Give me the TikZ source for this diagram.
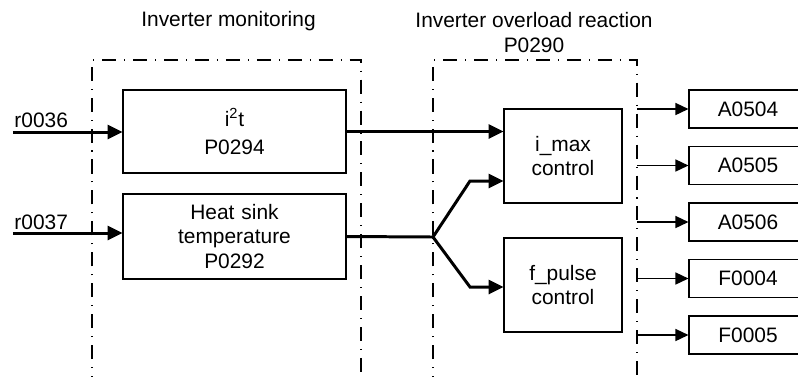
\documentclass[tikz,border=0pt]{standalone}
\usepackage{fontspec}
\setmainfont{Liberation Sans}
\usepackage{tikz}
\usetikzlibrary{shapes,arrows}
\usetikzlibrary{arrows.meta}

\begin{document}
\begin{tikzpicture}[font=\fontsize{11.9}{14.2}\selectfont]
        \tikzstyle{block} = [rectangle, draw, line width=0.6pt, text centered, inner sep=0pt]
        \tikzstyle{outbox} = [block, text width=2.36cm, minimum height=0.76cm]
        \tikzstyle{line} = [draw, line width=1.7pt, -{Triangle[length=8.5pt, width=8pt]}]
        \tikzstyle{outline} = [draw, line width=0.9pt, -{Triangle[length=7.4pt, width=6.8pt]}]
        \tikzstyle{frame} = [draw, line width=0.6pt, dash pattern=on 8pt off 4.5pt on 0.6pt off 4.5pt]

        \useasboundingbox (0,0) rectangle (15.96,-7.52);

        % dash-dot frames
        \draw [frame] (1.84,-7.8) |- (7.22,-1.2) -- (7.22,-7.8);
        \draw [frame] (8.66,-7.8) |- (12.74,-1.2) -- (12.74,-7.8);
        \node [anchor=base] (monitoring) at (4.57,-0.52) {Inverter monitoring};
        \node [anchor=base, align=center] (reaction) at (10.68,-1.05) {Inverter overload reaction\\P0290};

        % monitoring blocks
        \node [block, text width=4.46cm, minimum height=1.66cm] (itwot) at (4.69,-2.63) {i\textsuperscript{2}t\\[2pt]P0294};
        \node [block, text width=4.46cm, minimum height=1.70cm, below of=itwot, node distance=2.1cm] (heatsink) {Heat sink\\temperature\\P0292};

        % reaction blocks
        \node [block, text width=2.36cm, minimum height=1.88cm] (imax) at (11.26,-3.12) {i\_max\\control};
        \node [block, text width=2.36cm, minimum height=1.88cm, below of=imax, node distance=2.58cm] (fpulse) {f\_pulse\\control};

        % messages
        \node [outbox] (aobf) at (14.96,-2.18) {A0504};
        \node [outbox, below of=aobf, node distance=1.13cm] (aobs) {A0505};
        \node [outbox, below of=aobs, node distance=1.13cm] (aobx) {A0506};
        \node [outbox, below of=aobx, node distance=1.13cm] (fobf) {F0004};
        \node [outbox, below of=fobf, node distance=1.13cm] (fobg) {F0005};

        \coordinate (inrz) at (0.26,-2.64);
        \coordinate (inrs) at (0.26,-4.66);
        \coordinate (fork) at (8.66,-4.74);
        \coordinate (up) at (9.4,-3.62);
        \coordinate (down) at (9.4,-5.74);
        \coordinate (edge) at (12.74,0);

        \path [line] (inrz) -- node[pos=0, anchor=base west, inner sep=0pt, yshift=0.1cm] {r0036} (inrz -| itwot.west);
        \path [line] (inrs) -- node[pos=0, anchor=base west, inner sep=0pt, yshift=0.07cm] {r0037} (inrs -| heatsink.west);
        \path [line] (itwot.east) -- (itwot.east -| imax.west);
        \path [line] (heatsink.east) -- (fork) -- (up) -- (up -| imax.west);
        \path [line] (fork) -- (down) -- (down -| fpulse.west);

        \path [outline] (edge |- aobf) -- (aobf);
        \path [outline] (edge |- aobs) -- (aobs);
        \path [outline] (edge |- aobx) -- (aobx);
        \path [outline] (edge |- fobf) -- (fobf);
        \path [outline] (edge |- fobg) -- (fobg);
\end{tikzpicture}
\end{document}
